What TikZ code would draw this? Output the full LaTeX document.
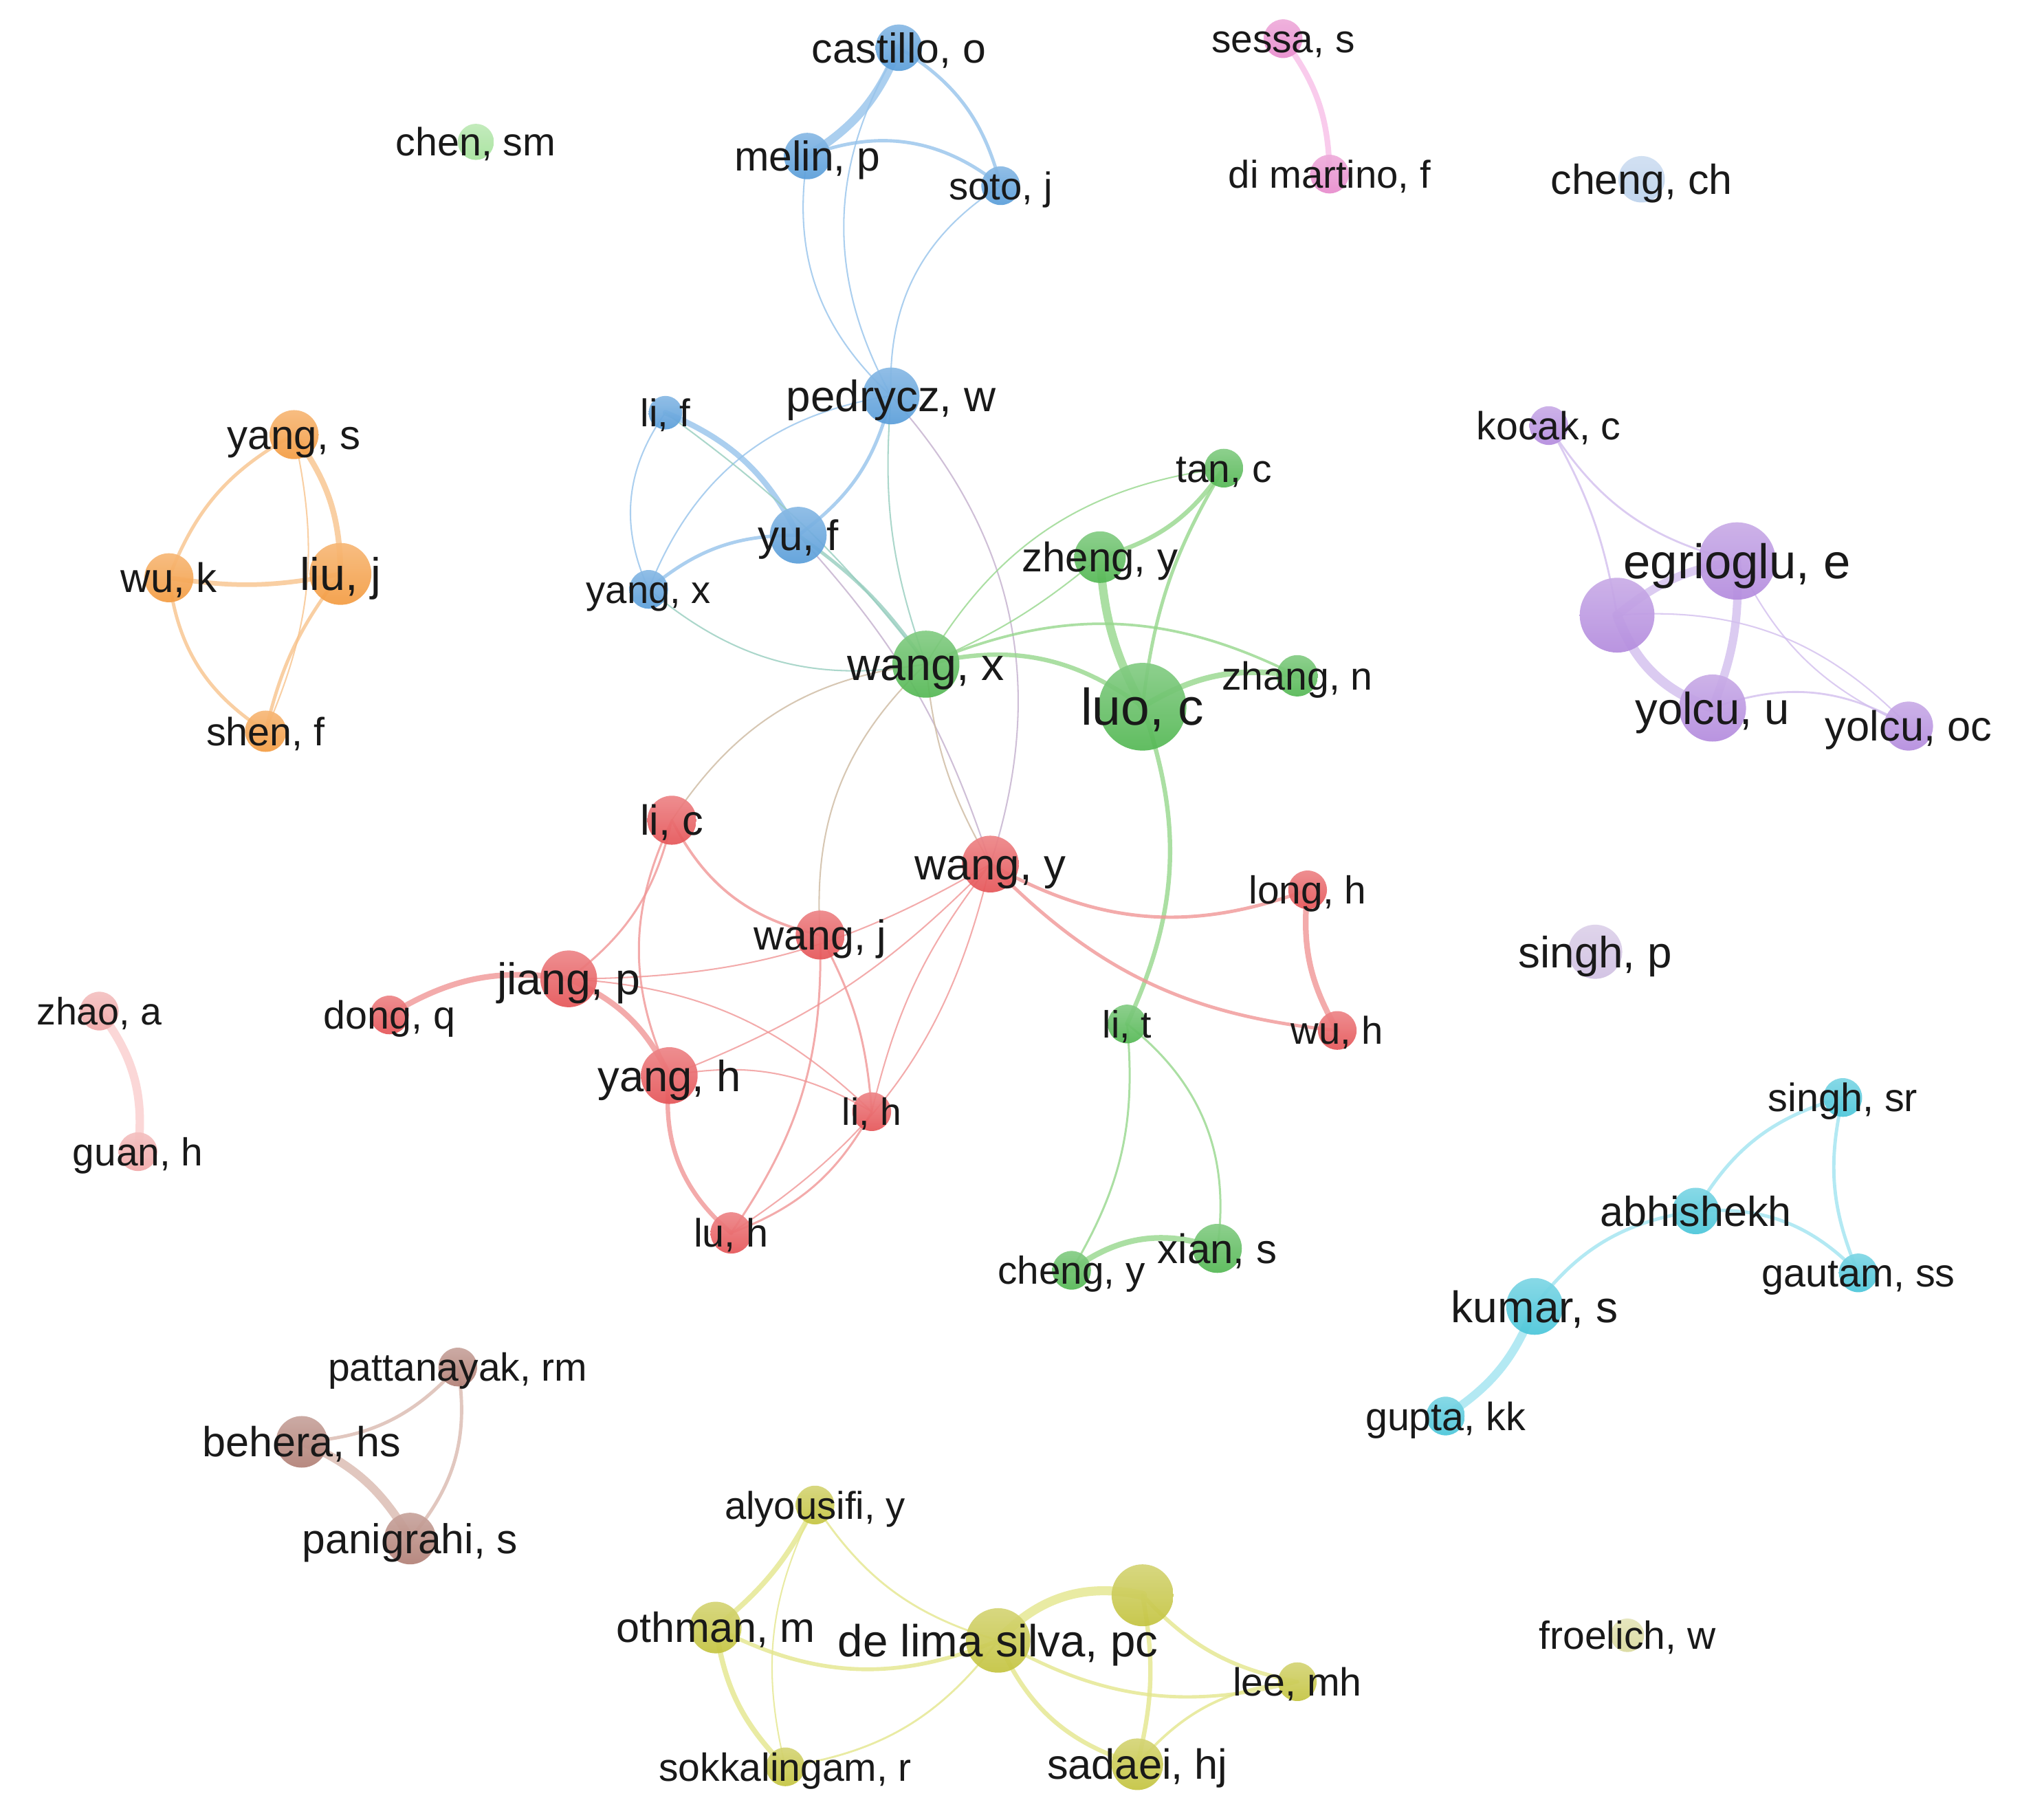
\documentclass[tikz,border=0pt]{standalone}
\usepackage{fontspec}
\setmainfont{Liberation Sans}
\definecolor{txt}{RGB}{25,25,25}
\definecolor{nBlue}{RGB}{90,158,218}
\definecolor{eBlue}{RGB}{150,195,235}
\definecolor{nGreen}{RGB}{84,184,84}
\definecolor{eGreen}{RGB}{150,215,140}
\definecolor{nRed}{RGB}{230,85,88}
\definecolor{eRed}{RGB}{240,150,150}
\definecolor{nOrange}{RGB}{244,156,66}
\definecolor{eOrange}{RGB}{248,195,140}
\definecolor{nPurple}{RGB}{180,140,222}
\definecolor{ePurple}{RGB}{210,190,238}
\definecolor{nCyan}{RGB}{75,198,218}
\definecolor{eCyan}{RGB}{160,228,240}
\definecolor{nYellow}{RGB}{196,196,64}
\definecolor{eYellow}{RGB}{228,230,140}
\definecolor{nBrown}{RGB}{178,128,118}
\definecolor{eBrown}{RGB}{218,185,175}
\definecolor{nPink}{RGB}{232,140,205}
\definecolor{ePink}{RGB}{248,190,232}
\definecolor{nLtGreen}{RGB}{165,226,155}
\definecolor{nLtBlue}{RGB}{188,210,236}
\definecolor{nLav}{RGB}{208,192,226}
\definecolor{nLtPink}{RGB}{240,168,168}
\definecolor{eLtPink}{RGB}{250,205,205}
\definecolor{nKhaki}{RGB}{218,218,158}
\definecolor{eBG}{RGB}{150,205,190}
\definecolor{eGR}{RGB}{205,185,160}
\definecolor{eBR}{RGB}{195,175,205}
\pgfdeclarelayer{bg}
\pgfdeclarelayer{edges}
\pgfdeclarelayer{labels}
\pgfsetlayers{bg,edges,main,labels}
\tikzset{
  au/.style={circle, inner sep=0pt, minimum size=#1, fill opacity=0.92, draw=none},
  lbl/.style={font=\fontsize{#1}{#1}\selectfont, inner sep=0pt, anchor=base, yshift={-0.358*#1}, text=txt},
  ed/.style={line cap=round, draw opacity=0.8},
  tn/.style={line width=1.1pt},
  md/.style={line width=2.6pt},
  tk/.style={line width=4.4pt},
  xk/.style={line width=6.5pt}
}
% #1 name, #2 x, #3 y, #4 diameter, #5 colour, #6 font size, #7 text
\newcommand{\person}[7]{%
  \node[au=#4, top color=#5!72!white, bottom color=#5] (#1) at (#2,#3) {};
  \begin{pgfonlayer}{labels}\node[lbl=#6] (#1-l) at (#1) {#7};\end{pgfonlayer}%
}
\begin{document}
\begin{tikzpicture}[x=1pt,y=-1pt]
\useasboundingbox (0,0) rectangle (1568,1411);
\begin{pgfonlayer}{bg}
\fill[white] (0,0) rectangle (1568,1411);
\end{pgfonlayer}

% ---------- nodes ----------
% blue
\person{castillo}{697}{37}{36}{nBlue}{32.4}{castillo, o}
\person{melin}{626}{121}{36}{nBlue}{32.3}{melin, p}
\person{soto}{776}{144}{30}{nBlue}{30}{soto, j}
\person{pedrycz}{691}{307}{44}{nBlue}{34}{pedrycz, w}
\person{lif}{516}{320}{26}{nBlue}{30}{li, f}
\person{yuf}{619}{415}{44}{nBlue}{33}{yu, f}
\person{yangx}{503}{457}{30}{nBlue}{30}{yang, x}
% green
\person{wangx}{718}{515}{52}{nGreen}{35.4}{wang, x}
\person{luoc}{886}{548}{68}{nGreen}{40}{luo, c}
\person{zhengy}{853}{432}{40}{nGreen}{32}{zheng, y}
\person{tanc}{949}{363}{30}{nGreen}{30.3}{tan, c}
\person{zhangn}{1006}{524}{32}{nGreen}{30.5}{zhang, n}
\person{lit}{874}{794}{30}{nGreen}{29.5}{li, t}
\person{xians}{944}{968}{38}{nGreen}{32}{xian, s}
\person{chengy}{831}{985}{30}{nGreen}{30.2}{cheng, y}
\person{chensm}{369}{110}{28}{nLtGreen}{30.6}{chen, sm}
% red
\person{lic}{521}{636}{38}{nRed}{32.7}{li, c}
\person{wangy}{768}{670}{44}{nRed}{34}{wang, y}
\person{wangj}{636}{725}{38}{nRed}{32.5}{wang, j}
\person{jiangp}{441}{759}{44}{nRed}{34.4}{jiang, p}
\person{dongq}{302}{787}{30}{nRed}{30.6}{dong, q}
\person{yangh}{519}{834}{44}{nRed}{33.8}{yang, h}
\person{lih}{676}{862}{30}{nRed}{29.5}{li, h}
\person{luh}{567}{956}{32}{nRed}{30.7}{lu, h}
\person{longh}{1014}{690}{30}{nRed}{30.3}{long, h}
\person{wuh}{1037}{799}{30}{nRed}{30}{wu, h}
% orange
\person{yangs}{228}{337}{38}{nOrange}{32}{yang, s}
\person{wuk}{131}{448}{38}{nOrange}{32}{wu, k}
\person{liuj}{264}{445}{48}{nOrange}{35.4}{liu, j}
\person{shenf}{206}{567}{32}{nOrange}{30.6}{shen, f}
% purple
\person{kocak}{1201}{330}{30}{nPurple}{30.5}{kocak, c}
\person{egrioglu}{1347}{435}{60}{nPurple}{37.7}{egrioglu, e}
\node[au=58, top color=nPurple!72!white, bottom color=nPurple] (p6) at (1254,477) {};
\person{yolcuu}{1328}{549}{52}{nPurple}{34.8}{yolcu, u}
\person{yolcuoc}{1480}{563}{38}{nPurple}{32.7}{yolcu, oc}
% small groups
\person{sessa}{995}{30}{30}{nPink}{30.3}{sessa, s}
\person{dimartino}{1031}{135}{30}{nPink}{30}{di martino, f}
\person{chengch}{1273}{139}{36}{nLtBlue}{32.5}{cheng, ch}
\person{singhp}{1237}{738}{42}{nLav}{34}{singh, p}
\person{zhao}{77}{784}{30}{nLtPink}{29.6}{zhao, a}
\person{guan}{107}{893}{30}{nLtPink}{30.3}{guan, h}
% brown
\person{pattanayak}{355}{1060}{30}{nBrown}{30.4}{pattanayak, rm}
\person{behera}{234}{1118}{40}{nBrown}{32.6}{behera, hs}
\person{panigrahi}{318}{1193}{40}{nBrown}{32.3}{panigrahi, s}
% cyan
\person{singhsr}{1429}{851}{30}{nCyan}{30.7}{singh, sr}
\person{abhishekh}{1315}{939}{36}{nCyan}{32.5}{abhishekh}
\person{gautam}{1441}{987}{30}{nCyan}{30.7}{gautam, ss}
\person{kumar}{1190}{1013}{44}{nCyan}{34.2}{kumar, s}
\person{gupta}{1121}{1098}{30}{nCyan}{30.6}{gupta, kk}
% yellow
\person{alyousifi}{632}{1167}{30}{nYellow}{30}{alyousifi, y}
\person{othman}{555}{1262}{40}{nYellow}{32.6}{othman, m}
\person{delima}{774}{1272}{50}{nYellow}{34.9}{de lima silva, pc}
\node[au=48, top color=nYellow!72!white, bottom color=nYellow] (y8) at (886,1237) {};
\person{lee}{1006}{1304}{30}{nYellow}{30.5}{lee, mh}
\person{sokkalingam}{609}{1370}{30}{nYellow}{30.4}{sokkalingam, r}
\person{sadaei}{882}{1368}{40}{nYellow}{32.7}{sadaei, hj}
\person{froelich}{1262}{1268}{26}{nKhaki}{30.4}{froelich, w}

% ---------- edges ----------
\begin{pgfonlayer}{edges}
% blue
\draw[ed,eBlue,xk] (castillo.center) to[bend left=18] (melin.center);
\draw[ed,eBlue,md] (castillo.center) to[bend left=22] (soto.center);
\draw[ed,eBlue,md] (melin.center) to[bend left=30] (soto.center);
\draw[ed,eBlue,tn] (castillo.center) to[bend right=30] (pedrycz.center);
\draw[ed,eBlue,tn] (melin.center) to[bend right=28] (pedrycz.center);
\draw[ed,eBlue,tn] (soto.center) to[bend right=30] (pedrycz.center);
\draw[ed,eBlue,tk] (lif.center) to[bend left=20] (yuf.center);
\draw[ed,eBlue,md] (yangx.center) to[bend left=20] (yuf.center);
\draw[ed,eBlue,md] (yuf.center) to[bend right=20] (pedrycz.center);
\draw[ed,eBlue,tn] (yangx.center) to[bend left=30] (pedrycz.center);
\draw[ed,eBlue,tn] (lif.center) to[bend right=30] (yangx.center);
\draw[ed,eBG,md] (yuf.center) to[bend left=10] (wangx.center);
\draw[ed,eBG,tn] (lif.center) to[bend left=8] (wangx.center);
\draw[ed,eBR,tn] (yuf.center) to[bend left=12] (wangy.center);
\draw[ed,eBG,tn] (pedrycz.center) to[bend right=12] (wangx.center);
\draw[ed,eBR,tn] (pedrycz.center) to[bend left=30] (wangy.center);
\draw[ed,eBG,tn] (yangx.center) to[bend right=25] (wangx.center);
% green
\draw[ed,eGreen,line width=3.4pt] (wangx.center) to[bend left=25] (luoc.center);
\draw[ed,eGreen,line width=2pt] (wangx.center) to[bend left=25] (zhangn.center);
\draw[ed,eGreen,tn] (wangx.center) to[bend right=8] (zhengy.center);
\draw[ed,eGreen,tn] (wangx.center) to[bend left=26] (tanc.center);
\draw[ed,eGreen,line width=3.4pt] (zhengy.center) to[bend right=20] (tanc.center);
\draw[ed,eGreen,md] (luoc.center) to[bend left=12] (tanc.center);
\draw[ed,eGreen,xk] (luoc.center) to[bend left=12] (zhengy.center);
\draw[ed,eGreen,tk] (luoc.center) to[bend left=20] (zhangn.center);
\draw[ed,eGreen,line width=3.4pt] (luoc.center) to[bend left=22] (lit.center);
\draw[ed,eGreen,line width=1.6pt] (lit.center) to[bend left=18] (chengy.center);
\draw[ed,eGreen,line width=1.6pt] (lit.center) to[bend left=30] (xians.center);
\draw[ed,eGreen,tk] (chengy.center) to[bend left=28] (xians.center);
% red
\draw[ed,eRed,line width=2pt] (lic.center) to[bend right=25] (wangj.center);
\draw[ed,eRed,line width=1.6pt] (lic.center) to[bend left=20] (jiangp.center);
\draw[ed,eRed,line width=1.6pt] (lic.center) to[bend right=25] (yangh.center);
\draw[ed,eGR,tn] (lic.center) to[bend left=25] (wangx.center);
\draw[ed,eRed,tk] (jiangp.center) to[bend right=20] (dongq.center);
\draw[ed,eRed,tk] (jiangp.center) to[bend left=20] (yangh.center);
\draw[ed,eRed,tn] (jiangp.center) to[bend right=15] (wangy.center);
\draw[ed,eRed,tn] (jiangp.center) to[bend left=20] (lih.center);
\draw[ed,eGR,tn] (wangx.center) to[bend right=25] (wangj.center);
\draw[ed,eGR,tn] (wangx.center) to[bend right=12] (wangy.center);
\draw[ed,eRed,tn] (wangy.center) to[bend left=12] (yangh.center);
\draw[ed,eRed,tn] (wangy.center) to[bend left=22] (luh.center);
\draw[ed,eRed,tn] (wangy.center) to[bend right=12] (lih.center);
\draw[ed,eRed,md] (wangy.center) to[bend right=25] (longh.center);
\draw[ed,eRed,md] (wangy.center) to[bend right=20] (wuh.center);
\draw[ed,eRed,tk] (longh.center) to[bend right=18] (wuh.center);
\draw[ed,eRed,line width=1.6pt] (wangj.center) to[bend left=12] (lih.center);
\draw[ed,eRed,line width=1.6pt] (wangj.center) to[bend left=18] (luh.center);
\draw[ed,eRed,line width=3.4pt] (yangh.center) to[bend right=28] (luh.center);
\draw[ed,eRed,tn] (yangh.center) to[bend left=20] (lih.center);
\draw[ed,eRed,line width=1.6pt] (luh.center) to[bend right=20] (lih.center);
% orange
\draw[ed,eOrange,tk] (yangs.center) to[bend left=18] (liuj.center);
\draw[ed,eOrange,tn] (yangs.center) to[bend left=18] (shenf.center);
\draw[ed,eOrange,md] (yangs.center) to[bend right=20] (wuk.center);
\draw[ed,eOrange,line width=3.6pt] (wuk.center) to[bend right=10] (liuj.center);
\draw[ed,eOrange,md] (wuk.center) to[bend right=25] (shenf.center);
\draw[ed,eOrange,md] (liuj.center) to[bend right=12] (shenf.center);
% purple
\draw[ed,ePurple,line width=1.5pt] (kocak.center) to[bend right=22] (egrioglu.center);
\draw[ed,ePurple,line width=1.5pt] (kocak.center) to[bend left=10] (p6.center);
\draw[ed,ePurple,xk] (p6.center) to[bend left=15] (egrioglu.center);
\draw[ed,ePurple,line width=7.5pt] (p6.center) to[bend right=25] (yolcuu.center);
\draw[ed,ePurple,xk] (egrioglu.center) to[bend left=12] (yolcuu.center);
\draw[ed,ePurple,tn] (p6.center) to[bend left=25] (yolcuoc.center);
\draw[ed,ePurple,tn] (egrioglu.center) to[bend right=20] (yolcuoc.center);
\draw[ed,ePurple,line width=1.5pt] (yolcuu.center) to[bend left=25] (yolcuoc.center);
% small groups
\draw[ed,ePink,tk] (sessa.center) to[bend left=18] (dimartino.center);
\draw[ed,eLtPink,xk] (zhao.center) to[bend left=22] (guan.center);
% brown
\draw[ed,eBrown,md] (behera.center) to[bend right=22] (pattanayak.center);
\draw[ed,eBrown,xk] (behera.center) to[bend left=18] (panigrahi.center);
\draw[ed,eBrown,md] (pattanayak.center) to[bend left=25] (panigrahi.center);
% cyan
\draw[ed,eCyan,md] (abhishekh.center) to[bend left=22] (singhsr.center);
\draw[ed,eCyan,md] (abhishekh.center) to[bend left=25] (gautam.center);
\draw[ed,eCyan,md] (singhsr.center) to[bend right=18] (gautam.center);
\draw[ed,eCyan,md] (abhishekh.center) to[bend right=22] (kumar.center);
\draw[ed,eCyan,xk] (kumar.center) to[bend left=18] (gupta.center);
% yellow
\draw[ed,eYellow,line width=4pt] (alyousifi.center) to[bend left=12] (othman.center);
\draw[ed,eYellow,tn] (alyousifi.center) to[bend right=20] (sokkalingam.center);
\draw[ed,eYellow,line width=1.5pt] (alyousifi.center) to[bend right=20] (delima.center);
\draw[ed,eYellow,line width=3pt] (othman.center) to[bend right=25] (delima.center);
\draw[ed,eYellow,line width=4pt] (othman.center) to[bend right=18] (sokkalingam.center);
\draw[ed,eYellow,line width=1.5pt] (delima.center) to[bend left=22] (sokkalingam.center);
\draw[ed,eYellow,line width=7pt] (delima.center) to[bend left=30] (y8.center);
\draw[ed,eYellow,line width=3.4pt] (delima.center) to[bend right=25] (sadaei.center);
\draw[ed,eYellow,md] (delima.center) to[bend right=22] (lee.center);
\draw[ed,eYellow,line width=3pt] (y8.center) to[bend right=18] (lee.center);
\draw[ed,eYellow,line width=3.4pt] (y8.center) to[bend left=12] (sadaei.center);
\draw[ed,eYellow,line width=2pt] (sadaei.center) to[bend left=22] (lee.center);
\end{pgfonlayer}
\end{tikzpicture}
\end{document}
